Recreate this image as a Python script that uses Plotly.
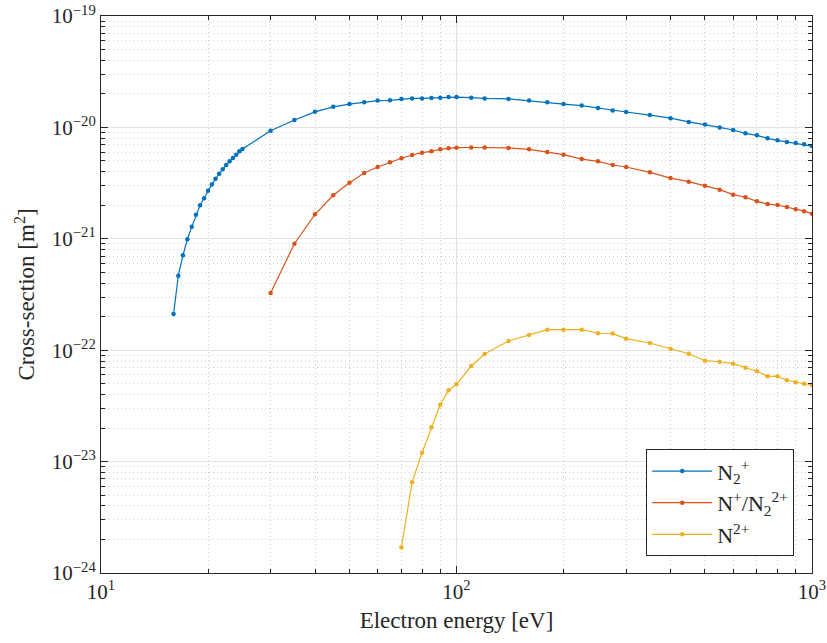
import plotly.graph_objects as go

# --- data ---
x_n2p = [16, 16.5, 17, 17.5, 18, 18.5, 19, 19.5, 20, 20.5, 21, 21.5, 22, 22.5, 23, 23.5, 24, 24.5, 25,
         30, 35, 40, 45, 50, 55, 60, 65, 70, 75, 80, 85, 90, 95, 100, 110, 120, 140, 160, 180, 200,
         225, 250, 275, 300, 350, 400, 450, 500, 550, 600, 650, 700, 750, 800, 850, 900, 950, 1000]
y_n2p = [2.11e-22, 4.67e-22, 7.11e-22, 9.9e-22, 1.28e-21, 1.64e-21, 2.0e-21, 2.31e-21, 2.70e-21, 3.08e-21,
         3.46e-21, 3.84e-21, 4.2e-21, 4.6e-21, 4.96e-21, 5.31e-21, 5.69e-21, 6.1e-21, 6.4e-21,
         9.34e-21, 1.165e-20, 1.38e-20, 1.53e-20, 1.62e-20, 1.68e-20, 1.74e-20, 1.75e-20, 1.80e-20,
         1.82e-20, 1.82e-20, 1.84e-20, 1.85e-20, 1.87e-20, 1.87e-20, 1.85e-20, 1.82e-20, 1.80e-20,
         1.74e-20, 1.68e-20, 1.62e-20, 1.57e-20, 1.49e-20, 1.42e-20, 1.375e-20, 1.29e-20, 1.21e-20,
         1.12e-20, 1.06e-20, 1.0e-20, 9.47e-21, 8.85e-21, 8.49e-21, 7.98e-21, 7.66e-21, 7.4e-21,
         7.24e-21, 7.05e-21, 6.8e-21]

x_np = [30, 35, 40, 45, 50, 55, 60, 65, 70, 75, 80, 85, 90, 95, 100, 110, 120, 140, 160, 180, 200,
        225, 250, 275, 300, 350, 400, 450, 500, 550, 600, 650, 700, 750, 800, 850, 900, 950, 1000]
y_np = [3.26e-22, 9.04e-22, 1.66e-21, 2.46e-21, 3.19e-21, 3.90e-21, 4.41e-21, 4.86e-21, 5.28e-21,
        5.65e-21, 5.93e-21, 6.1e-21, 6.36e-21, 6.49e-21, 6.58e-21, 6.6e-21, 6.6e-21, 6.54e-21,
        6.36e-21, 6.02e-21, 5.69e-21, 5.2e-21, 4.96e-21, 4.6e-21, 4.41e-21, 3.95e-21, 3.51e-21,
        3.26e-21, 3.0e-21, 2.76e-21, 2.49e-21, 2.36e-21, 2.17e-21, 2.05e-21, 2.01e-21, 1.93e-21,
        1.84e-21, 1.77e-21, 1.68e-21]

x_n2pp = [70, 75, 80, 85, 90, 95, 100, 110, 120, 140, 160, 180, 200, 225, 250, 275, 300, 350, 400,
          450, 500, 550, 600, 650, 700, 750, 800, 850, 900, 950, 1000]
y_n2pp = [1.69e-24, 6.52e-24, 1.2e-23, 2.03e-23, 3.24e-23, 4.36e-23, 4.94e-23, 7.21e-23, 9.24e-23,
          1.21e-22, 1.37e-22, 1.53e-22, 1.53e-22, 1.53e-22, 1.42e-22, 1.41e-22, 1.27e-22, 1.16e-22,
          1.03e-22, 9.3e-23, 8.05e-23, 7.88e-23, 7.57e-23, 6.97e-23, 6.47e-23, 5.83e-23, 5.85e-23,
          5.37e-23, 5.15e-23, 5.0e-23, 4.88e-23]

names = ["N<sub>2</sub><sup>+</sup>", "N<sup>+</sup>/N<sub>2</sub><sup>2+</sup>", "N<sup>2+</sup>"]
colors = ["#0072BD", "#D95319", "#EDB120"]

x_tickvals = [10, 100, 1000]
x_ticktext = ["10<sup>1</sup>", "10<sup>2</sup>", "10<sup>3</sup>"]
y_tickvals = [1e-24, 1e-23, 1e-22, 1e-21, 1e-20, 1e-19]
y_ticktext = ["10<sup>\u221224</sup>", "10<sup>\u221223</sup>", "10<sup>\u221222</sup>",
              "10<sup>\u221221</sup>", "10<sup>\u221220</sup>", "10<sup>\u221219</sup>"]

FONT = "Liberation Serif"
TXT = "#262626"

fig = go.Figure()
for xs, ys, nm, c in [(x_n2p, y_n2p, names[0], colors[0]),
                      (x_np, y_np, names[1], colors[1]),
                      (x_n2pp, y_n2pp, names[2], colors[2])]:
    fig.add_trace(go.Scatter(x=xs, y=ys, mode="lines+markers", name=nm,
                             line=dict(color=c, width=1.2),
                             marker=dict(color=c, size=4.5)))

axis_common = dict(
    type="log", automargin=False,
    showline=True, linecolor=TXT, linewidth=1, mirror="ticks",
    ticks="inside", ticklen=7, tickcolor=TXT,
    showgrid=True, gridcolor="#e3e3e3", gridwidth=1,
    tickmode="array",
    tickfont=dict(family=FONT, size=21, color=TXT),
    minor=dict(dtick="D1", ticks="inside", ticklen=4, tickcolor=TXT,
               showgrid=True, gridcolor="#d0d0d0", griddash="1px,3px", gridwidth=1),
    zeroline=False,
)

fig.update_xaxes(**axis_common, range=[1, 3], tickvals=x_tickvals, ticktext=x_ticktext,
                 title=dict(text="Electron energy [eV]", font=dict(family=FONT, size=23, color=TXT),
                            standoff=8))
fig.update_yaxes(**axis_common, range=[-24, -19], tickvals=y_tickvals, ticktext=y_ticktext,
                 title=dict(text="Cross-section [m<sup>2</sup>]", font=dict(family=FONT, size=23, color=TXT),
                            standoff=10))

fig.update_layout(
    width=827, height=643,
    margin=dict(l=101, r=15, t=16, b=70),
    plot_bgcolor="white", paper_bgcolor="white",
    font=dict(family=FONT, color=TXT),
    legend=dict(x=0.975, y=0.03, xanchor="right", yanchor="bottom",
                bgcolor="white", bordercolor=TXT, borderwidth=1,
                font=dict(family=FONT, size=22, color=TXT),
                itemwidth=60, tracegroupgap=0),
    showlegend=True,
)

fig.write_html("out.html")
